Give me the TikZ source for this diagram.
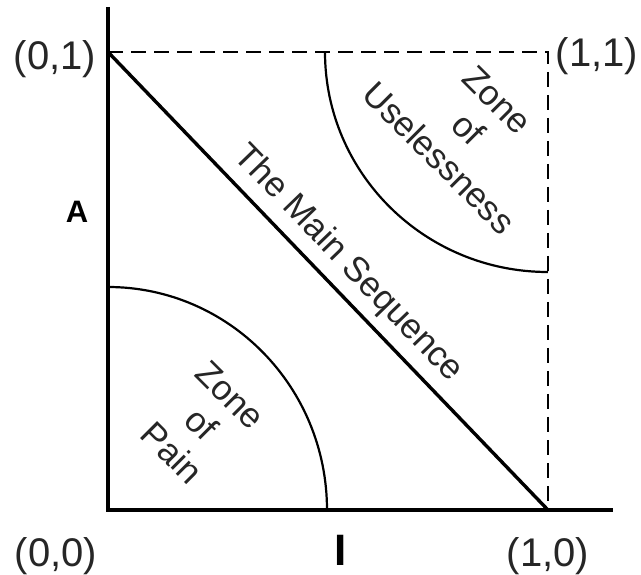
\documentclass[tikz,border=0pt]{standalone}
\usepackage{fontspec}
\setmainfont{Liberation Sans}
\begin{document}
\begin{tikzpicture}[x=1pt,y=-1pt,
  axis/.style={line width=3.4pt},
  guide/.style={line width=2.2pt, dash pattern=on 15pt off 8pt},
  zone/.style={line width=2.2pt},
  coord/.style={font=\fontsize{40}{48}\selectfont, inner sep=0pt, anchor=base, text=black!85},
  axlabel/.style={font=\bfseries\fontsize{31}{37}\selectfont, inner sep=0pt, anchor=base},
  zonetext/.style={font=\fontsize{35}{41}\selectfont, align=center, inner sep=0pt, text=black!85}]
\useasboundingbox (0,0) rectangle (641,575);
\coordinate (O) at (108,510);
\coordinate (ytop) at (108,7);
\coordinate (xend) at (613,510);
\coordinate (P01) at (108,52);
\coordinate (P10) at (548,510);
\coordinate (P11) at (548,52);
\coordinate (painA) at (108,287);
\coordinate (useA) at (325,52);
% dashed guide
\draw[guide] (P01) -- (P11) -- (P10);
% zones
\draw[zone] (painA) arc[start angle=90, end angle=0, x radius=219pt, y radius=223pt];
\draw[zone] (useA) arc[start angle=180, end angle=270, x radius=223pt, y radius=220pt];
% axes
\draw[axis] (ytop) -- (O) -- (xend);
% main sequence
\draw[axis] (P01) -- (P10);
\node[zonetext, rotate=-46] (seq) at (348,264) {The Main Sequence};
\node[zonetext, rotate=-45] (pain) at (201,424) {Zone\\of\\Pain};
\node[zonetext, rotate=-45] (useless) at (468,129) {Zone\\of\\Uselessness};
% labels
\node[coord] (l01) at (55,70) {(0,1)};
\node[coord] (l11) at (597,67) {(1,1)};
\node[coord] (l00) at (56,566) {(0,0)};
\node[coord] (l10) at (548,566) {(1,0)};
\node[axlabel] (lA) at (77,223) {A};
\node[axlabel, font=\bfseries\fontsize{44}{50}\selectfont] (lI) at (341,565) {I};
\end{tikzpicture}
\end{document}
